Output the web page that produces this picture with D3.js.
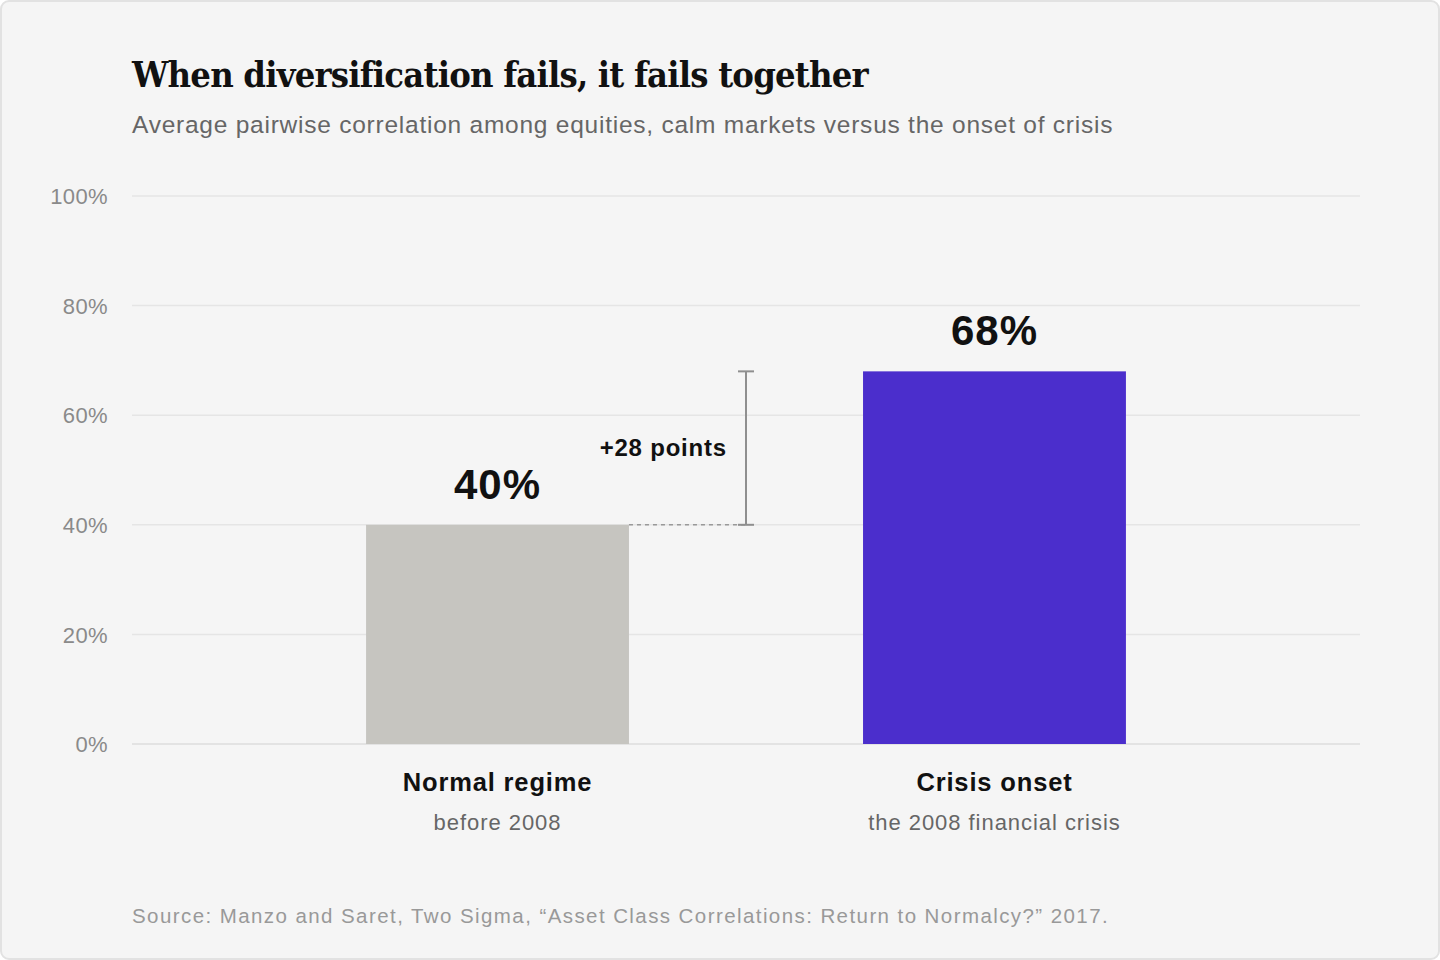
<!DOCTYPE html>
<html>
<head>
<meta charset="utf-8">
<script src="https://cdn.jsdelivr.net/npm/d3@7/dist/d3.min.js"></script>
<style>
  html, body { margin: 0; padding: 0; background: #ffffff; }
  svg { display: block; }
</style>
</head>
<body>
<svg id="chart" width="1440" height="960"></svg>
<script>
// ---- data ----
const categories = ["Normal regime", "Crisis onset"];
const subLabels = ["before 2008", "the 2008 financial crisis"];
const values = [40, 68];
const valueLabels = ["40%", "68%"];
const barColors = ["#c6c5c0", "#4b2ecc"];
const yTicks = [0, 20, 40, 60, 80, 100];
const yTickLabels = ["0%", "20%", "40%", "60%", "80%", "100%"];
const deltaLabel = "+28 points";
const titleText = "When diversification fails, it fails together";
const subtitleText = "Average pairwise correlation among equities, calm markets versus the onset of crisis";
const sourceText = "Source: Manzo and Saret, Two Sigma, \u201cAsset Class Correlations: Return to Normalcy?\u201d 2017.";

const W = 1440, H = 960;
const svg = d3.select("#chart");
const sans = "'Liberation Sans', Arial, Helvetica, sans-serif";
const serif = "'DejaVu Serif Condensed', 'DejaVu Serif', serif";

// card
svg.append("rect").attr("x", 1).attr("y", 1).attr("width", W - 2).attr("height", H - 2)
  .attr("rx", 8).attr("fill", "#f5f5f5").attr("stroke", "#e2e2e2").attr("stroke-width", 2);

// title & subtitle
const title = svg.append("text").attr("x", 132).attr("y", 87).text(titleText)
  .attr("font-family", serif).attr("font-stretch", "condensed").attr("font-weight", 700)
  .attr("font-size", 36).attr("fill", "#111");
{
  const len = title.node().getComputedTextLength();
  const target = 733;
  title.attr("letter-spacing", ((target - len) / titleText.length).toFixed(2));
}
svg.append("text").attr("x", 132).attr("y", 133).text(subtitleText)
  .attr("font-family", sans).attr("font-size", 24.5).attr("letter-spacing", 0.76).attr("fill", "#666");

// scales
const x = d3.scaleBand().domain(categories).range([132, 1360]).paddingInner(0.471).paddingOuter(0.471);
const y = d3.scaleLinear().domain([0, 100]).range([744, 196]);

// grid
const grid = svg.append("g");
grid.selectAll("line").data(yTicks).join("line")
  .attr("x1", 132).attr("x2", 1360)
  .attr("y1", d => y(d)).attr("y2", d => y(d))
  .attr("stroke", d => d === 0 ? "#dcdcdc" : "#e5e5e5").attr("stroke-width", 1.5);

// y axis labels
const yAxis = d3.axisLeft(y).tickValues(yTicks).tickFormat((d, i) => yTickLabels[i]).tickSize(0).tickPadding(0);
const ya = svg.append("g").attr("transform", "translate(108,0)").call(yAxis);
ya.select(".domain").remove();
ya.selectAll("text").attr("font-family", sans).attr("font-size", 22).attr("letter-spacing", 0.4)
  .attr("fill", "#8a8a8a").attr("dy", "0.35em");

// bars
svg.append("g").selectAll("rect").data(categories).join("rect")
  .attr("x", d => x(d)).attr("width", x.bandwidth())
  .attr("y", (d, i) => y(values[i])).attr("height", (d, i) => y(0) - y(values[i]))
  .attr("fill", (d, i) => barColors[i]);

// value labels
svg.append("g").selectAll("text").data(categories).join("text")
  .attr("x", d => x(d) + x.bandwidth() / 2).attr("y", (d, i) => y(values[i]) - 26)
  .attr("text-anchor", "middle").text((d, i) => valueLabels[i])
  .attr("font-family", sans).attr("font-weight", 700).attr("font-size", 42).attr("letter-spacing", 1)
  .attr("fill", "#111");

// category labels
svg.append("g").selectAll("text").data(categories).join("text")
  .attr("x", d => x(d) + x.bandwidth() / 2).attr("y", 791)
  .attr("text-anchor", "middle").text(d => d)
  .attr("font-family", sans).attr("font-weight", 700).attr("font-size", 25.5).attr("letter-spacing", 0.85)
  .attr("fill", "#111");
svg.append("g").selectAll("text").data(categories).join("text")
  .attr("x", d => x(d) + x.bandwidth() / 2).attr("y", 830)
  .attr("text-anchor", "middle").text((d, i) => subLabels[i])
  .attr("font-family", sans).attr("font-size", 22).attr("letter-spacing", 0.95).attr("fill", "#666");

// delta annotation
const bx = 746;
const x0end = x(categories[0]) + x.bandwidth();
const ann = svg.append("g");
ann.append("line").attr("x1", x0end).attr("x2", bx).attr("y1", y(values[0])).attr("y2", y(values[0]))
  .attr("stroke", "#999").attr("stroke-width", 1.5).attr("stroke-dasharray", "4 4");
ann.append("line").attr("x1", bx).attr("x2", bx).attr("y1", y(values[1])).attr("y2", y(values[0]))
  .attr("stroke", "#8f8f8f").attr("stroke-width", 2);
[values[0], values[1]].forEach(v => {
  ann.append("line").attr("x1", bx - 8).attr("x2", bx + 8).attr("y1", y(v)).attr("y2", y(v))
    .attr("stroke", "#8f8f8f").attr("stroke-width", 2);
});
ann.append("text").attr("x", 727).attr("y", (y(values[0]) + y(values[1])) / 2 + 8)
  .attr("text-anchor", "end").text(deltaLabel)
  .attr("font-family", sans).attr("font-weight", 700).attr("font-size", 24).attr("letter-spacing", 0.8)
  .attr("fill", "#111");

// source
svg.append("text").attr("x", 132).attr("y", 923).text(sourceText)
  .attr("font-family", sans).attr("font-size", 20.5).attr("letter-spacing", 1.42).attr("fill", "#999");
</script>
</body>
</html>
